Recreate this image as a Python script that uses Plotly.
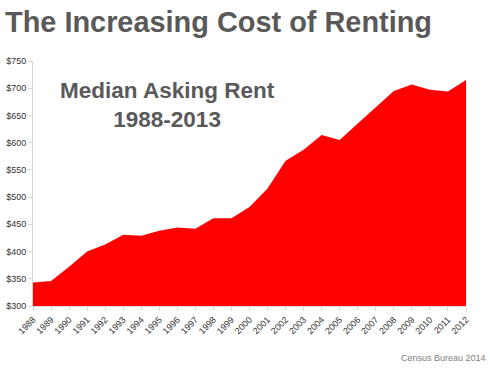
import plotly.graph_objects as go

years = list(range(1988, 2013))
rent = [343, 346, 372, 400, 413, 431, 429, 438, 444, 442, 461, 461, 482,
        516, 567, 587, 614, 605, 635, 665, 695, 707, 697, 694, 715]
y_ticks = [300, 350, 400, 450, 500, 550, 600, 650, 700, 750]
y_labels = ["$" + str(v) for v in y_ticks]

fig = go.Figure()
fig.add_trace(go.Scatter(
    x=years, y=rent, mode="lines", fill="tozeroy",
    line=dict(color="#ff0000", width=0), fillcolor="#ff0000",
    hoverinfo="skip", showlegend=False))

fig.update_layout(
    width=490, height=374,
    margin=dict(l=33, r=24, t=61, b=68),
    paper_bgcolor="white", plot_bgcolor="white",
    font=dict(family="Liberation Sans, Arial, sans-serif", color="#404040"),
    xaxis=dict(range=[1988, 2012], tickmode="array", tickvals=years,
               ticktext=[str(y) for y in years], tickangle=-45,
               tickfont=dict(size=9, color="#333333"), automargin=False,
               showgrid=False, zeroline=False, showline=True,
               linecolor="#d9d9d9", linewidth=1,
               ticks="outside", ticklen=4, tickcolor="#d9d9d9"),
    yaxis=dict(range=[300, 750], tickmode="array", tickvals=y_ticks,
               ticktext=y_labels, tickfont=dict(size=9, color="#333333"),
               automargin=False,
               showgrid=False, zeroline=False, showline=True,
               linecolor="#d9d9d9", linewidth=1,
               ticks="outside", ticklen=4, tickcolor="#d9d9d9"),
    annotations=[
        dict(text="<b>The Increasing Cost of Renting</b>", xref="paper", yref="paper",
             x=-30/433, y=1 + (61 - 22) / 245, xanchor="left", yanchor="middle",
             showarrow=False, font=dict(size=28.9, color="#595959")),
        dict(text="<b>Median Asking Rent<br>1988-2013</b>", xref="paper", yref="paper",
             x=(167 - 33) / 433, y=1 - (105 - 61) / 245, xanchor="center", yanchor="middle",
             showarrow=False, font=dict(size=22.5, color="#595959")),
        dict(text="Census Bureau 2014", xref="paper", yref="paper",
             x=(488 - 33) / 433, y=-(358 - 306) / 245, xanchor="right", yanchor="middle",
             showarrow=False, font=dict(size=9, color="#808080")),
    ],
)

fig.write_html("out.html", config={"displayModeBar": False},
               post_script="document.body.style.margin='0';")
